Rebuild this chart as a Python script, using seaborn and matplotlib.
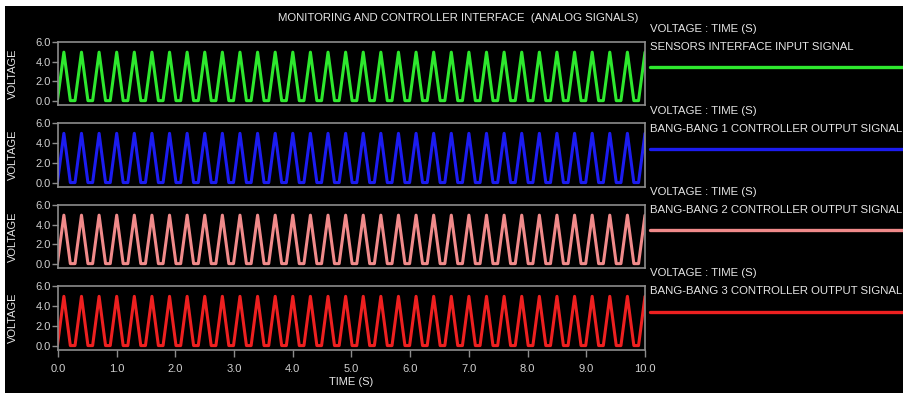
import matplotlib
matplotlib.use("Agg")
import matplotlib.pyplot as plt
import pandas as pd
import seaborn as sns
from matplotlib.lines import Line2D
from matplotlib.patches import Rectangle

# Peak instants of the triangular analog signal (s)
peak_times = [0.1, 0.4, 0.7, 1.0, 1.3, 1.6, 1.9, 2.2, 2.5, 2.8, 3.1, 3.4,
              3.7, 4.0, 4.3, 4.6, 4.9, 5.2, 5.5, 5.8, 6.1, 6.4, 6.7, 7.0,
              7.3, 7.6, 7.9, 8.2, 8.5, 8.8, 9.1, 9.4, 9.7, 10.0]
peak_voltage = 5.0
floor_voltage = 0.0
ramp_time = 0.11  # rise / fall duration of each pulse (s)

series_names = ["SENSORS INTERFACE INPUT SIGNAL",
                "BANG-BANG 1 CONTROLLER OUTPUT SIGNAL",
                "BANG-BANG 2 CONTROLLER OUTPUT SIGNAL",
                "BANG-BANG 3 CONTROLLER OUTPUT SIGNAL"]
series_colors = ["#2ee82e", "#1c1cf0", "#f08a8a", "#ee2020"]

y_ticks = [0.0, 2.0, 4.0, 6.0]
y_tick_labels = ["0.0", "2.0", "4.0", "6.0"]
x_ticks = [0, 1, 2, 3, 4, 5, 6, 7, 8, 9, 10]
x_tick_labels = ["0.0", "1.0", "2.0", "3.0", "4.0", "5.0", "6.0", "7.0",
                 "8.0", "9.0", "10.0"]

# Polyline vertices of one pulse train: floor -> peak -> floor for every peak
times, volts = [], []
for p in peak_times:
    times += [p - ramp_time, p, p + ramp_time]
    volts += [floor_voltage, peak_voltage, floor_voltage]
signal = pd.DataFrame({"time": times, "voltage": volts})

sns.set_theme(style="dark")
plt.rcParams["font.family"] = ["Liberation Sans", "DejaVu Sans"]

W, H = 904, 393
fig = plt.figure(figsize=(W / 100, H / 100), dpi=100, facecolor="black")
# thin white frame along the top and left edges
fig.patches.append(Rectangle((0, 1 - 6 / H), 1, 6 / H, transform=fig.transFigure,
                             facecolor="white", edgecolor="none", zorder=-5))
fig.patches.append(Rectangle((0, 0), 5 / W, 1, transform=fig.transFigure,
                             facecolor="white", edgecolor="none", zorder=-5))

text_col = "#e6e6e6"
tick_col = "#d0d0d0"
spine_col = "#8c8c8c"
fs = 8

def fy(px):
    return 1 - px / H

panel_px = [(42, 105), (123, 187), (205, 268), (286, 350)]
left, right = 58, 645

for i, (name, color) in enumerate(zip(series_names, series_colors)):
    top, bot = panel_px[i]
    ax = fig.add_axes([left / W, fy(bot), (right - left) / W, (bot - top) / H])
    ax.set_facecolor("black")
    sns.lineplot(data=signal, x="time", y="voltage", ax=ax, color=color,
                 linewidth=2.2, sort=False, estimator=None)
    ax.set_xlim(0, 10)
    ax.set_ylim(-0.45, 6.05)
    ax.set_yticks(y_ticks)
    ax.set_yticklabels(y_tick_labels, color=tick_col, fontsize=fs)
    ax.tick_params(axis="y", length=4, width=1, color=spine_col, pad=1,
                   left=True)
    ax.set_ylabel("VOLTAGE", color=text_col, fontsize=fs)
    ax.yaxis.set_label_coords((18 - left) / (right - left), 0.5)
    ax.grid(False)
    for s in ax.spines.values():
        s.set_visible(True)
        s.set_color(spine_col)
        s.set_linewidth(1.2)
    if i < 3:
        ax.set_xlabel("")
        ax.set_xticks([])
    else:
        ax.set_xticks(x_ticks)
        ax.set_xticklabels(x_tick_labels, color=tick_col, fontsize=fs)
        ax.tick_params(axis="x", length=5, width=1, color=spine_col, pad=5,
                       bottom=True)
        ax.set_xlabel("TIME (S)", color=text_col, fontsize=fs, labelpad=2)

    # Trace description on the right-hand side
    base = 29 + i * 81.5
    fig.text(650 / W, fy(base), "VOLTAGE : TIME (S)", color=text_col,
             fontsize=8.2, va="center", ha="left")
    fig.text(650 / W, fy(base + 18), name, color=text_col,
             fontsize=8.2, va="center", ha="left")
    fig.lines.append(Line2D([650 / W, 1.0], [fy(base + 38)] * 2,
                            transform=fig.transFigure, color=color,
                            linewidth=2.4))

fig.text(458 / W, fy(18), "MONITORING AND CONTROLLER INTERFACE  (ANALOG SIGNALS)",
         color=text_col, fontsize=8.2, ha="center", va="center")

fig.savefig("out.png", dpi=100, facecolor=fig.get_facecolor())
